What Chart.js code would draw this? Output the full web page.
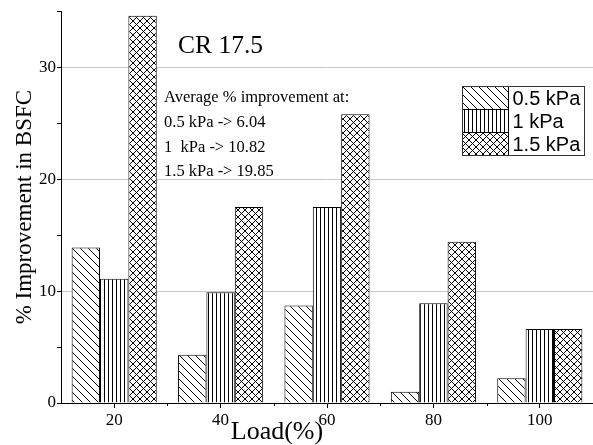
<html>
<head>
<style>
  body { margin: 0; background: #fff; }
  #wrap { width: 593px; height: 445px; }
</style>
</head>
<body>
<div id="wrap"><canvas id="myChart" width="593" height="445"></canvas></div>

<script src="https://cdn.jsdelivr.net/npm/chart.js"></script>

<script>
  const loads = ['20', '40', '60', '80', '100'];
  const kpa05 = [13.9, 4.3, 8.7, 1.0, 2.2];
  const kpa1 = [11.1, 9.9, 17.5, 8.9, 6.6];
  const kpa15 = [34.6, 17.5, 25.8, 14.4, 6.6];
  const seriesNames = ['0.5 kPa', '1 kPa', '1.5 kPa'];
  const notes = ['Average % improvement at:', '0.5 kPa -> 6.04', '1  kPa -> 10.82', '1.5 kPa -> 19.85'];

  const SERIF = '"Liberation Serif", "Times New Roman", serif';
  const SANS = '"Liberation Sans", Arial, sans-serif';

  // hatch patterns
  function makePattern(kind) {
    const c = document.createElement('canvas');
    const g = c.getContext('2d');
    let s = kind == 'vert' ? 4 : 8;
    if (kind == 'cross') s = 7;
    c.width = s; c.height = s;
    g.fillStyle = '#fff';
    g.fillRect(0, 0, s, s);
    g.strokeStyle = '#000';
    g.lineWidth = 1;
    g.beginPath();
    if (kind == 'vert') {
      g.moveTo(0.5, 0); g.lineTo(0.5, s);
    } else {
      // "\" lines
      g.moveTo(-1, -1); g.lineTo(s + 1, s + 1);
      g.moveTo(-1, s - 1); g.lineTo(1, s + 1);
      g.moveTo(s - 1, -1); g.lineTo(s + 1, 1);
      if (kind == 'cross') {
        g.moveTo(-1, s + 1); g.lineTo(s + 1, -1);
        g.moveTo(-1, 1); g.lineTo(1, -1);
        g.moveTo(s - 1, s + 1); g.lineTo(s + 1, s - 1);
      }
    }
    g.stroke();
    return g.createPattern(c, 'repeat');
  }
  const pats = [makePattern('diag'), makePattern('vert'), makePattern('cross')];

  const extras = {
    id: 'extras',
    afterDraw(chart) {
      const ctx = chart.ctx;
      const x = chart.scales.x, y = chart.scales.y;
      ctx.save();
      // minor ticks between categories
      ctx.strokeStyle = '#000';
      ctx.lineWidth = 1;
      for (let i = 1; i < loads.length; i++) {
        const px = Math.round((x.getPixelForValue(i - 1) + x.getPixelForValue(i)) / 2) + 0.5;
        ctx.beginPath();
        ctx.moveTo(px, y.bottom);
        ctx.lineTo(px, y.bottom + 3);
        ctx.stroke();
      }
      // x title
      ctx.fillStyle = '#000';
      ctx.font = '26px ' + SERIF;
      ctx.textAlign = 'center';
      ctx.textBaseline = 'alphabetic';
      ctx.fillText('Load(%)', x.left + (x.right - x.left) * 0.406, 439);
      // notes
      ctx.textAlign = 'left';
      ctx.font = '25.5px ' + SERIF;
      ctx.fillText('CR 17.5', 178, 53);
      ctx.font = '16.5px ' + SERIF;
      ctx.textBaseline = 'middle';
      notes.forEach((t, i) => ctx.fillText(t, 164, 98 + i * 24.7));
      // legend box
      const lx = 462.5, ly = 86.5, sw = 46, rh = 23;
      chart.data.datasets.forEach((ds, i) => {
        ctx.fillStyle = ds.backgroundColor;
        ctx.fillRect(lx, ly + i * rh, sw, rh);
        ctx.strokeStyle = '#000';
        ctx.strokeRect(lx, ly + i * rh, sw, rh);
        ctx.fillStyle = '#000';
        ctx.font = '20px ' + SANS;
        ctx.fillText(ds.label, lx + sw + 4, ly + i * rh + rh / 2 + 1);
      });
      ctx.strokeStyle = '#333';
      ctx.strokeRect(lx, ly, 122, rh * 3);
      ctx.restore();
    }
  };

  const data = {
    labels: loads,
    datasets: [
      { label: seriesNames[0], data: kpa05, backgroundColor: pats[0] },
      { label: seriesNames[1], data: kpa1, backgroundColor: pats[1] },
      { label: seriesNames[2], data: kpa15, backgroundColor: pats[2] }
    ].map(d => Object.assign(d, {
      borderColor: '#000', borderWidth: 1,
      categoryPercentage: 0.8, barPercentage: 1
    }))
  };

  const config = {
    type: 'bar',
    data: data,
    options: {
      responsive: false,
      animation: false,
      layout: { padding: { top: 11, right: 0, left: 0, bottom: 0 } },
      plugins: { legend: { display: false }, tooltip: { enabled: false } },
      scales: {
        x: {
          offset: true,
          afterFit: s => { s.height = 42; },
          border: { color: '#000', width: 1 },
          grid: { offset: false, drawOnChartArea: false, tickLength: 5, tickColor: '#000' },
          ticks: { color: '#000', font: { family: SERIF, size: 17 }, padding: 2, maxRotation: 0 }
        },
        y: {
          min: 0, max: 35,
          afterFit: s => { s.width = 61; },
          border: { color: '#000', width: 1 },
          grid: {
            color: c => (c.tick && c.tick.value % 10 == 0 && c.tick.value > 0) ? '#c8c8c8' : 'rgba(0,0,0,0)',
            tickColor: '#000',
            tickLength: 4
          },
          ticks: {
            stepSize: 5,
            color: '#000',
            padding: 1,
            font: { family: SERIF, size: 17 },
            callback: v => v % 10 == 0 ? v : ''
          },
          title: {
            display: true,
            text: '% Improvement in BSFC',
            color: '#000',
            font: { family: SERIF, size: 23 },
            padding: { top: 11, bottom: 0 }
          }
        }
      }
    },
    plugins: [extras]
  };

  const myChart = new Chart(document.getElementById('myChart'), config);
</script>
</body>
</html>
